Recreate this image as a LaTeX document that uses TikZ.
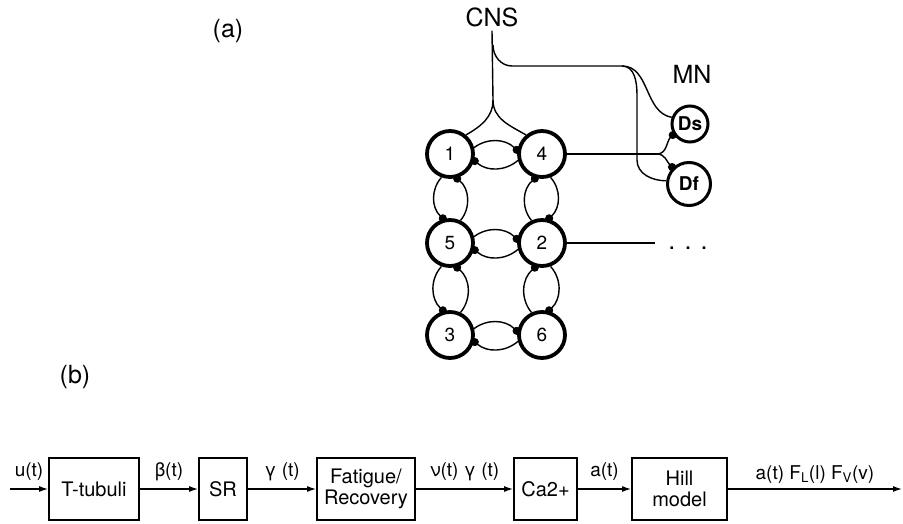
\documentclass[tikz,border=0pt]{standalone}
\usepackage{fontspec}
\setmainfont{TeX Gyre Heros}
\usetikzlibrary{arrows.meta}

\begin{document}
\begin{tikzpicture}[x=1pt, y=1pt, line width=1.4pt, font=\fontsize{19}{22}\selectfont,
	neuron/.style={circle, draw, line width=3.8pt, minimum size=46pt, inner sep=0pt},
	motor/.style={circle, draw, line width=3pt, inner sep=0pt, font=\fontsize{19}{22}\selectfont\bfseries},
	syn/.style={-{Circle[length=8pt]}, shorten >=-3pt},
	big/.style={font=\fontsize{25}{30}\selectfont},
	block/.style={draw, line width=1.8pt, minimum height=62pt, inner sep=0pt, align=center, font=\fontsize{20}{21}\selectfont},
	sig/.style={-{Latex[length=9pt,width=6pt]}, line width=1.3pt},
	lbl/.style={font=\fontsize{19}{22}\selectfont, anchor=base, yshift=13pt}]
	\useasboundingbox (0,0) rectangle (903,-524);
	% panel labels
	\node[big] (lbla) at (228,-31) {(a)};
	\node[big] (lblb) at (75,-377) {(b)};
	\node[big] (cns) at (492,-17) {CNS};
	\node[big] (mnlbl) at (692,-74) {MN};
	% half-centre neurons
	\foreach \name/\x/\y in {1/450/154, 4/542/154, 5/450/243, 2/542/243, 3/450/335, 6/542/335} {
		\node[neuron] (n\name) at (\x,-\y) {\name};
	};
	% motoneurons
	\node[motor, minimum size=36pt] (ds) at (690,-124) {Ds};
	\node[motor, minimum size=43pt] (df) at (689,-184) {Df};
	% mutual inhibition, rows
	\foreach \a/\b in {1/4, 5/2, 3/6} {
		\draw[syn] (n\a.15) to[bend left=40] (n\b.172);
		\draw[syn] (n\b.195) to[bend left=40] (n\a.-15);
	};
	% left column
	\foreach \a/\b in {1/5, 5/3} {
		\draw[syn] (n\a.-110) to[bend right=45] (n\b.105);
		\draw[syn] (n\b.65) to[bend right=45] (n\a.-75);
	};
	% right column
	\foreach \a/\b in {4/2, 2/6} {
		\draw[syn] (n\b.115) to[bend left=45] (n\a.-105);
		\draw[syn] (n\a.-70) to[bend left=45] (n\b.75);
	};
	% descending drive
	\coordinate (split) at (493,-100);
	\coordinate (brk) at (493,-45);
	\coordinate (corner) at (512,-66);
	\coordinate (fork) at (622,-66);
	\coordinate (dftop) at (637,-95);
	\coordinate (dfbot) at (637,-160);
	\draw (cns.south) -- (split);
	\draw (split) to[out=-90,in=30] (n1.50);
	\draw (split) to[out=-90,in=150] (n4.130);
	\draw (brk) to[out=-90,in=180] (corner) -- (fork);
	\draw (fork) to[out=0,in=170] (ds.160);
	\draw (fork) to[out=0,in=90] (dftop) -- (dfbot) to[out=-90,in=180] (df.172);
	% outputs to motoneurons
	\coordinate (mnfork) at (657,-154);
	\draw (n4.east) -- (mnfork);
	\draw[syn] (mnfork) to[out=0,in=-135] (ds.-148);
	\draw[syn] (mnfork) to[out=0,in=135] (df.135);
	\coordinate (more) at (655,-243);
	\draw (n2.east) -- (more);
	\node[big, anchor=base] (dots) at (688,-249) {. . .};
	% block diagram
	\foreach \name/\x/\w/\txt in {tt/94/90/T-tubuli, sr/223/48/SR, fr/366/98/{Fatigue/\\Recovery}, ca/545.5/63/Ca2+, hill/679.5/95/{Hill\\model}} {
		\node[block, minimum width=\w pt] (\name) at (\x,-489) {\txt};
	};
	\coordinate (uin) at (10,-489);
	\coordinate (out) at (902,-489);
	\draw[sig] (uin) -- node[lbl] {u(t)} (tt);
	\draw[sig] (tt) -- node[lbl] {β(t)} (sr);
	\draw[sig] (sr) -- node[lbl] {γ (t)} (fr);
	\draw[sig] (fr) -- node[lbl] {ν(t) γ (t)} (ca);
	\draw[sig] (ca) -- node[lbl] {a(t)} (hill);
	\draw[sig] (hill) -- node[lbl, yshift=-3pt] {a(t) F\textsubscript{L}(l) F\textsubscript{V}(v)} (out);
\end{tikzpicture}
\end{document}
